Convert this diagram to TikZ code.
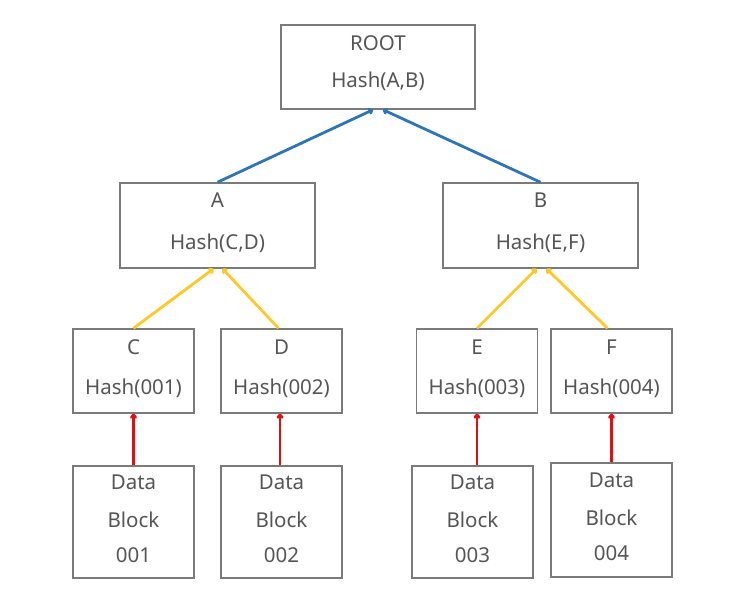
\documentclass[tikz,border=0pt]{standalone}
\usepackage{fontspec}
\setmainfont{Noto Sans}
\usetikzlibrary{arrows.meta,calc}
\definecolor{boxline}{HTML}{7A7A7A}
\definecolor{txt}{HTML}{555555}
\definecolor{blueln}{HTML}{2E75B6}
\definecolor{yellowln}{HTML}{FFC828}
\definecolor{redln}{HTML}{E01010}
\begin{document}
\begin{tikzpicture}[x=1pt,y=-1pt,
  hbox/.style={draw=boxline,line width=1.5pt,inner sep=0pt},
  lbl/.style={text=txt,inner sep=0pt,anchor=base,font=\fontsize{20.5}{24}\selectfont},
  bl/.style={draw=blueln,line width=2.8pt,-{To[length=5pt,width=7pt]}},
  yl/.style={draw=yellowln,line width=2.8pt,-{To[length=5pt,width=7pt]}},
  rl/.style={draw=redln,line width=2.8pt,-{To[length=5pt,width=7pt]}}]
\useasboundingbox[fill=white] (0,0) rectangle (750,600);
% boxes
\node[hbox,minimum width=194pt,minimum height=84pt] (root) at (378,67) {};
\node[hbox,minimum width=195pt,minimum height=85pt] (A) at (217.5,225.5) {};
\node[hbox,minimum width=195pt,minimum height=85pt] (B) at (540.5,225.5) {};
\node[hbox,minimum width=121pt,minimum height=84pt] (C) at (133.5,371) {};
\node[hbox,minimum width=121pt,minimum height=84pt] (D) at (281.5,371) {};
\node[hbox,minimum width=121pt,minimum height=84pt] (E) at (477,371) {};
\node[hbox,minimum width=121pt,minimum height=84pt] (F) at (611.5,371) {};
\node[hbox,minimum width=121pt,minimum height=112pt] (d1) at (133.5,522) {};
\node[hbox,minimum width=121pt,minimum height=112pt] (d2) at (281.5,522) {};
\node[hbox,minimum width=121pt,minimum height=112pt] (d3) at (472.5,522) {};
\node[hbox,minimum width=121pt,minimum height=114pt] (d4) at (611.5,520) {};
% labels
\node[lbl] (rootT) at (378,50.3) {ROOT};
\node[lbl] (rootH) at (378,87.3) {Hash(A,B)};
\node[lbl] (AT) at (217.5,207.3) {A};
\node[lbl] (AH) at (217.5,249.3) {Hash(C,D)};
\node[lbl] (BT) at (540.5,207.3) {B};
\node[lbl] (BH) at (540.5,249.3) {Hash(E,F)};
\node[lbl] (CT) at (133.5,354.3) {C};
\node[lbl] (CH) at (133.5,394.3) {Hash(001)};
\node[lbl] (DT) at (281.5,354.3) {D};
\node[lbl] (DH) at (281.5,394.3) {Hash(002)};
\node[lbl] (ET) at (477,354.3) {E};
\node[lbl] (EH) at (477,394.3) {Hash(003)};
\node[lbl] (FT) at (611.5,354.3) {F};
\node[lbl] (FH) at (611.5,394.3) {Hash(004)};
\foreach \n/\x/\y in {d1/133.5/0, d2/281.5/0, d3/472.5/0, d4/611.5/-2}{
  \node[lbl] (\n a) at (\x,489.3+\y) {Data};
  \node[lbl] (\n b) at (\x,527.3+\y) {Block};
}
\node[lbl] (d1c) at (133.5,562.3) {001};
\node[lbl] (d2c) at (281.5,562.3) {002};
\node[lbl] (d3c) at (472.5,562.3) {003};
\node[lbl] (d4c) at (611.5,560.3) {004};
% blue
\draw[bl] (A.north) -- ($(root.south)+(-5,0)$);
\draw[bl] (B.north) -- ($(root.south)+(5,0)$);
% yellow
\draw[yl] (C.north) -- ($(A.south)+(-4,0)$);
\draw[yl] ($(D.north)+(-3,0)$) -- ($(A.south)+(5,0)$);
\draw[yl] (E.north) -- ($(B.south)+(-4,0)$);
\draw[yl] ($(F.north)+(-4,0)$) -- ($(B.south)+(6,0)$);
% red
\draw[rl] (d1.north) -- (C.south);
\draw[rl] ($(d2.north)+(-1.5,0)$) -- ($(D.south)+(-1.5,0)$);
\draw[rl] (d3.north -| E.south) -- (E.south);
\draw[rl] (d4.north) -- (F.south);
\end{tikzpicture}
\end{document}
